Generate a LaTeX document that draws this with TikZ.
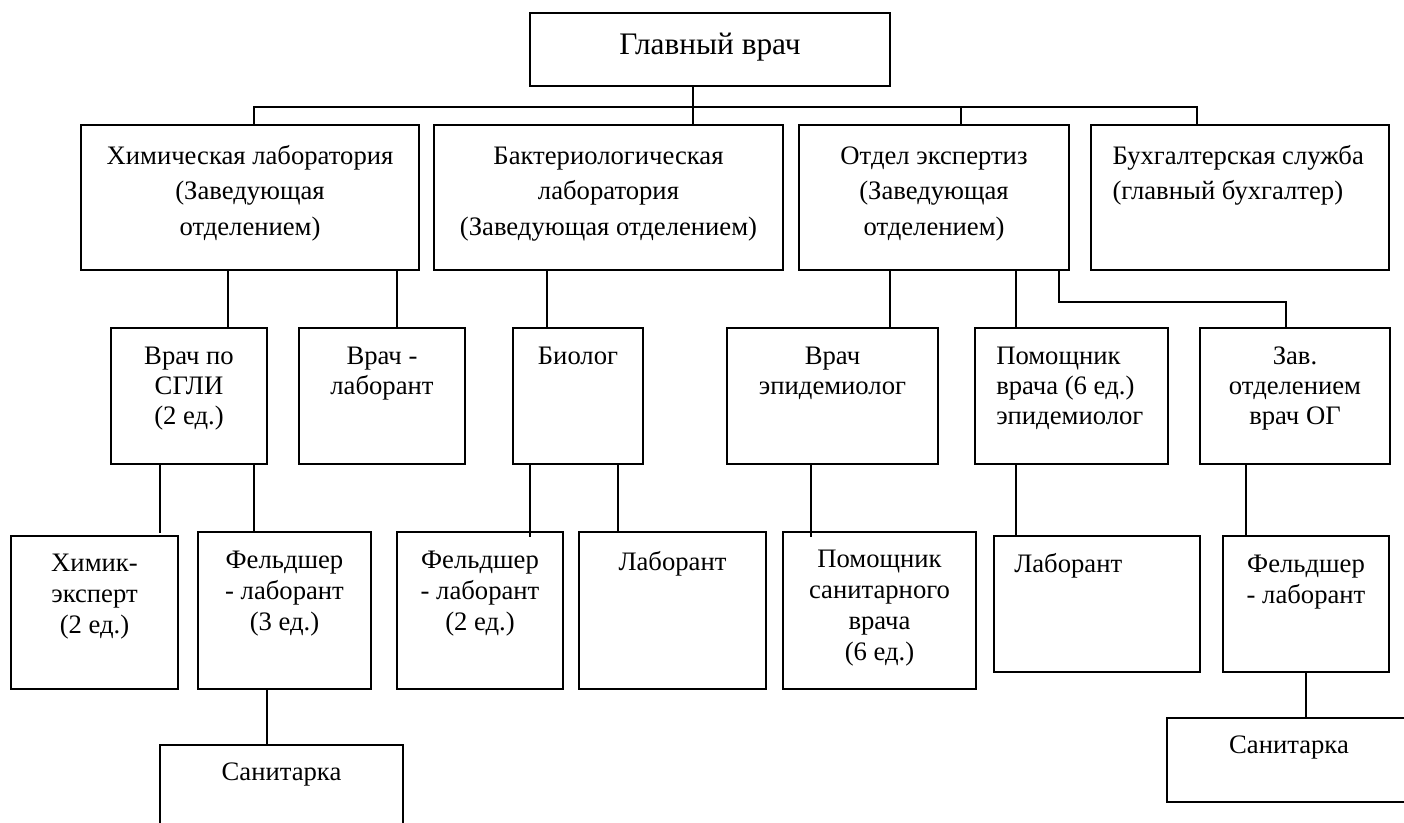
\documentclass[tikz,border=0pt]{standalone}
\usepackage{fontspec}
\setmainfont{Liberation Serif}
\newcommand\RR{\rule{0pt}{16pt}}
\newcommand\bx[5]{\node[boxst, minimum width={(#4-#2)*0.75pt}, minimum height={(#5-#3)*0.75pt}] (#1) at (#2,#3) {};}
\begin{document}
\begin{tikzpicture}[x=0.75pt,y=-0.75pt,
  boxst/.style={draw, line width=1.1pt, rectangle, inner sep=0pt, outer sep=0pt, anchor=north west},
  lbl/.style={anchor=north, inner sep=0pt, align=center, font=\fontsize{20}{23.25}\selectfont},
  lblm/.style={lbl, font=\fontsize{20}{22.5}\selectfont},
  lblt/.style={lbl, font=\fontsize{20}{26.5}\selectfont},
  conn/.style={draw, line width=1pt}]
\useasboundingbox (0,0) rectangle (1404,823);
\clip (0,0) rectangle (1404,823);
\fill[white] (0,0) rectangle (1404,823);
% boxes
\bx{main}{530}{13}{890}{86}
\bx{chem}{81}{125}{419}{270}
\bx{bact}{434}{125}{783}{270}
\bx{otd}{799}{125}{1069}{270}
\bx{buh}{1091}{125}{1389}{270}
\bx{sgli}{111}{328}{267}{464}
\bx{vlab}{299}{328}{465}{464}
\bx{biol}{513}{328}{643}{464}
\bx{vepid}{727}{328}{938}{464}
\bx{pvr}{975}{328}{1168}{464}
\bx{zav}{1200}{328}{1390}{464}
\bx{himik}{11}{536}{178}{689}
\bx{feldA}{198}{532}{371}{689}
\bx{feldB}{397}{532}{563}{689}
\bx{labA}{579}{532}{766}{689}
\bx{psan}{783}{532}{976}{689}
\bx{labB}{994}{536}{1200}{672}
\bx{feldC}{1223}{536}{1389}{672}
\bx{sanA}{160}{745}{403}{840}
\bx{sanB}{1167}{718}{1411}{802}
% texts
\node[anchor=north, inner sep=0pt, font=\fontsize{23.5}{28}\selectfont] (tmain) at ([yshift=-10.75pt]main.north) {\rule{0pt}{20pt}Главный врач};
\node[lblt] (tchem) at ([yshift=-13.5pt]chem.north) {\RR Химическая лаборатория\\(Заведующая\\отделением)};
\node[lblt] (tbact) at ([yshift=-13.5pt]bact.north) {\RR Бактериологическая\\лаборатория\\(Заведующая отделением)};
\node[lblt] (totd) at ([yshift=-13.5pt]otd.north) {\RR Отдел экспертиз\\(Заведующая\\отделением)};
\node[lblt, anchor=north west, align=left] (tbuh) at ([xshift=16pt,yshift=-13.5pt]buh.north west) {\RR Бухгалтерская служба\\(главный бухгалтер)};
\node[lblm] (tsgli) at ([yshift=-11.5pt]sgli.north) {\RR Врач по\\СГЛИ\\(2 ед.)};
\node[lblm] (tvlab) at ([yshift=-11.5pt]vlab.north) {\RR Врач -\\лаборант};
\node[lblm] (tbiol) at ([yshift=-11.5pt]biol.north) {\RR Биолог};
\node[lblm] (tvepid) at ([yshift=-11.5pt]vepid.north) {\RR Врач\\эпидемиолог};
\node[lblm, anchor=north west, align=left] (tpvr) at ([xshift=15.75pt,yshift=-11.5pt]pvr.north west) {\RR Помощник\\врача (6 ед.)\\эпидемиолог};
\node[lblm] (tzav) at ([yshift=-11.5pt]zav.north) {\RR Зав.\\отделением\\врач ОГ};
\node[lbl] (thimik) at ([yshift=-10.75pt]himik.north) {\RR Химик-\\эксперт\\(2 ед.)};
\node[lbl] (tfeldA) at ([yshift=-11pt]feldA.north) {\RR Фельдшер\\- лаборант\\(3 ед.)};
\node[lbl] (tfeldB) at ([yshift=-11pt]feldB.north) {\RR Фельдшер\\- лаборант\\(2 ед.)};
\node[lbl] (tlabA) at ([yshift=-12.5pt]labA.north) {\RR Лаборант};
\node[lbl] (tpsan) at ([yshift=-10.5pt]psan.north) {\RR Помощник\\санитарного\\врача\\(6 ед.)};
\node[lbl, anchor=north west, align=left] (tlabB) at ([xshift=15pt,yshift=-11pt]labB.north west) {\RR Лаборант};
\node[lbl] (tfeldC) at ([yshift=-11pt]feldC.north) {\RR Фельдшер\\- лаборант};
\node[lbl] (tsanA) at ([yshift=-10.75pt]sanA.north) {\RR Санитарка};
\node[lbl] (tsanB) at ([yshift=-10.5pt]sanB.north) {\RR Санитарка};
% connector x positions
\coordinate (bus) at (0,107);
\coordinate (zbend) at (0,302);
\coordinate (k0) at (693,0);
\coordinate (ka) at (254,0);
\coordinate (kb) at (1197,0);
\coordinate (kc) at (961,0);
\coordinate (k1) at (228,0);
\coordinate (k2) at (397,0);
\coordinate (k3) at (547,0);
\coordinate (k4) at (890,0);
\coordinate (k5) at (1016,0);
\coordinate (k6) at (1059,0);
\coordinate (k7) at (1286,0);
\coordinate (k8) at (160,0);
\coordinate (k9) at (254,0);
\coordinate (k10) at (530,0);
\coordinate (k11) at (618,0);
\coordinate (k12) at (267,0);
\coordinate (k13) at (811,0);
\coordinate (k14) at (1016,0);
\coordinate (k15) at (1246,0);
\coordinate (k16) at (1306,0);
% connectors
\draw[conn] (main.south -| k0) -- (bact.north -| k0);
\draw[conn] (chem.north -| ka) -- (ka |- bus) -- (kb |- bus) -- (buh.north -| kb);
\draw[conn] (otd.north -| kc) -- (kc |- bus);
\draw[conn] (chem.south -| k1) -- (sgli.north -| k1);
\draw[conn] (chem.south -| k2) -- (vlab.north -| k2);
\draw[conn] (bact.south -| k3) -- (biol.north -| k3);
\draw[conn] (otd.south -| k4) -- (vepid.north -| k4);
\draw[conn] (otd.south -| k5) -- (pvr.north -| k5);
\draw[conn] (otd.south -| k6) -- (k6 |- zbend) -- (k7 |- zbend) -- (zav.north -| k7);
\draw[conn] (sgli.south -| k8) -- ([yshift=2pt]himik.north -| k8);
\draw[conn] (sgli.south -| k9) -- (feldA.north -| k9);
\draw[conn] (biol.south -| k10) -- ([yshift=-3.75pt]feldB.north -| k10);
\draw[conn] (biol.south -| k11) -- (labA.north -| k11);
\draw[conn] (feldA.south -| k12) -- (sanA.north -| k12);
\draw[conn] (vepid.south -| k13) -- ([yshift=-3.75pt]psan.north -| k13);
\draw[conn] (pvr.south -| k14) -- (labB.north -| k14);
\draw[conn] (zav.south -| k15) -- (feldC.north -| k15);
\draw[conn] (feldC.south -| k16) -- (sanB.north -| k16);
\end{tikzpicture}
\end{document}
